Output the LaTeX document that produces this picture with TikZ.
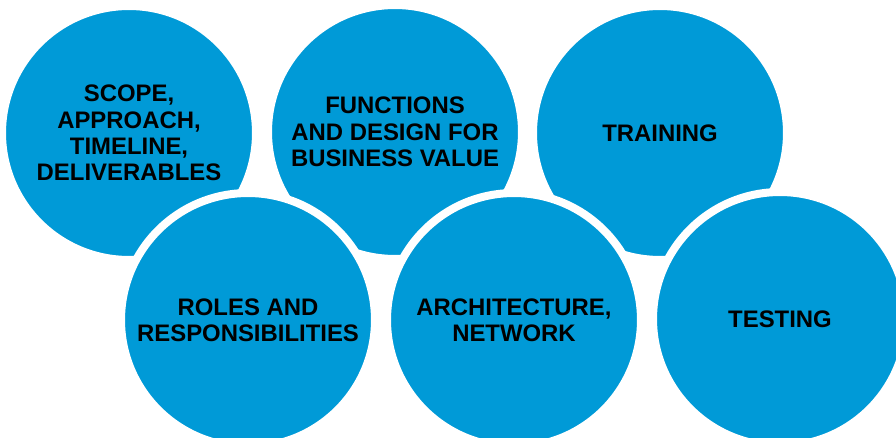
\documentclass[tikz,border=0pt]{standalone}
\usepackage{fontspec}
\setmainfont{Liberation Sans}
\usetikzlibrary{positioning}
\definecolor{sky}{HTML}{009AD7}
\definecolor{ink}{HTML}{000000}

\begin{document}
\begin{tikzpicture}[x=0.02cm,y=-0.02cm,every node/.style={font=\fontsize{13.6}{15}\selectfont\bfseries,text=ink,align=center}]
\tikzset{disc/.style={circle,fill=sky,draw=white,line width=0.16cm,minimum size=5.08cm,inner sep=0pt}}
\clip (0,0) rectangle (896,438);
% top row
\node[disc] (scope) at (129,133) {SCOPE,\\APPROACH,\\TIMELINE,\\DELIVERABLES};
\node[disc] (functions) at (395,132) {FUNCTIONS\\AND DESIGN FOR\\BUSINESS VALUE};
\node[disc] (training) at (660,133) {TRAINING};
% bottom row, laid over the top one
\node[disc] (roles) at (248,320) {ROLES AND\\RESPONSIBILITIES};
\node[disc] (architecture) at (514,320) {ARCHITECTURE,\\NETWORK};
\node[disc] (testing) at (780,319) {TESTING};
\end{tikzpicture}
\end{document}
